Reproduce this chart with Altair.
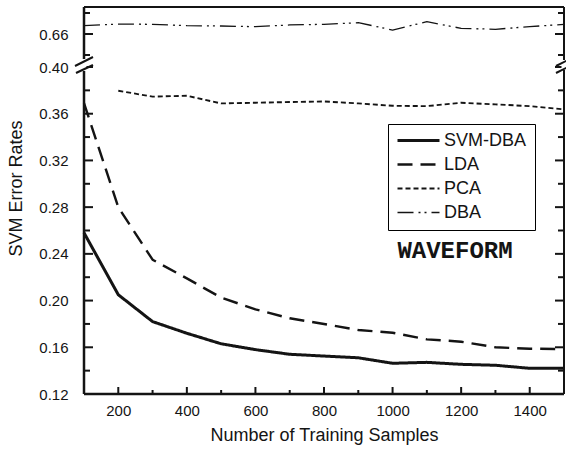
import altair as alt
import pandas as pd

# ---------------- data ----------------
samples = [100, 200, 300, 400, 500, 600, 700, 800, 900, 1000, 1100, 1200, 1300, 1400, 1500]
svm_dba = [0.258, 0.205, 0.182, 0.172, 0.163, 0.158, 0.154, 0.1525, 0.151, 0.1463, 0.1471, 0.1454, 0.1446, 0.142, 0.142]
lda = [0.369, 0.280, 0.235, 0.219, 0.2025, 0.1925, 0.1848, 0.180, 0.1748, 0.1725, 0.1668, 0.1648, 0.160, 0.1588, 0.1585]
pca = [None, 0.3797, 0.3746, 0.3754, 0.3688, 0.3694, 0.370, 0.3705, 0.3688, 0.3668, 0.3665, 0.3694, 0.368, 0.3665, 0.3637]
dba = [0.6679, 0.6695, 0.6692, 0.6679, 0.6676, 0.667, 0.6686, 0.6692, 0.6708, 0.6638, 0.6717, 0.6654, 0.6645, 0.667, 0.6692]

methods = ["SVM-DBA", "LDA", "PCA", "DBA"]
series = [svm_dba, lda, pca, dba]

y_major = [0.12, 0.16, 0.20, 0.24, 0.28, 0.32, 0.36, 0.40, 0.66]
y_minor = [0.14, 0.18, 0.22, 0.26, 0.30, 0.34, 0.38, 0.64, 0.68]
x_major = [200, 400, 600, 800, 1000, 1200, 1400]
x_minor = [300, 500, 700, 900, 1100, 1300]

# ---------------- styles ----------------
dash_styles = [[1, 0], [15, 8], [5, 3], [16, 5, 2, 4, 2, 5]]
width_styles = [3, 1.3, 1.3, 1.3]
INK = "#141414"
W, H = 480, 387

# broken axis: values above the break are shifted down next to 0.40
BREAK_EXPR = "datum.rate > 0.5 ? 0.42826 + (datum.rate - 0.66) * 0.899 : datum.rate"


def brk(v):
    return 0.42826 + (v - 0.66) * 0.899 if v > 0.5 else v


rows = []
for m, vals in zip(methods, series):
    for s, v in zip(samples, vals):
        if v is not None:
            rows.append({"samples": s, "rate": v, "method": m})
df = pd.DataFrame(rows)

xscale = alt.Scale(domain=[100, 1500], nice=False, zero=False)
yscale = alt.Scale(domain=[0.12, 0.45138], nice=False, zero=False)

xaxis = alt.Axis(
    title="Number of Training Samples", values=x_major, ticks=False, domain=False,
    grid=False, labelPadding=9, titlePadding=8, format="d")
yaxis = alt.Axis(
    title="SVM Error Rates", values=[brk(v) for v in y_major], ticks=False,
    domain=False, grid=False, labelPadding=16,
    labelExpr="datum.value > 0.41 ? '0.66' : format(datum.value, '.2f')",
    titleAngle=270, titleBaseline="middle", titleAlign="center",
    titleX=-68, titleY=181)

legend = alt.Legend(
    title=None, orient="none", legendX=304, legendY=117,
    strokeColor="black", padding=8, symbolType="stroke", symbolSize=1764,
    symbolStrokeColor=INK, labelFontSize=18, labelFont="Liberation Sans",
    labelColor=INK, clipHeight=17, rowPadding=5, labelOffset=3,
)

lines = alt.Chart(df).transform_calculate(pos=BREAK_EXPR).mark_line(
    color=INK, strokeCap="butt", strokeJoin="round"
).encode(
    x=alt.X("samples:Q", scale=xscale, axis=xaxis),
    y=alt.Y("pos:Q", scale=yscale, axis=yaxis),
    strokeDash=alt.StrokeDash("method:N", scale=alt.Scale(domain=methods, range=dash_styles), legend=legend),
    strokeWidth=alt.StrokeWidth("method:N", scale=alt.Scale(domain=methods, range=width_styles), legend=legend),
    order=alt.Order("samples:Q"),
)

ymaj = pd.DataFrame({"rate": y_major})
ymin = pd.DataFrame({"rate": y_minor})
xmaj = pd.DataFrame({"samples": x_major})
xmin = pd.DataFrame({"samples": x_minor})


def ytick(d, x0, x1):
    return alt.Chart(d).transform_calculate(pos=BREAK_EXPR).mark_rule(color=INK, strokeWidth=2).encode(
        y=alt.Y("pos:Q", scale=yscale, axis=yaxis), x=alt.value(x0), x2=alt.value(x1))


def xtick(d, ln):
    return alt.Chart(d).mark_rule(color=INK, strokeWidth=2).encode(
        x=alt.X("samples:Q", scale=xscale, axis=xaxis), y=alt.value(H), y2=alt.value(H - ln))


ticks = [
    ytick(ymaj, 0, 9), ytick(ymin, 0, 6),
    ytick(ymaj, W, W - 9), ytick(ymin, W, W - 6),
    xtick(xmaj, 7), xtick(xmin, 4),
]

one = pd.DataFrame({"k": [0]})


def seg(x0, y0, x1, y1, color=INK, sw=2):
    return alt.Chart(one).mark_rule(color=color, strokeWidth=sw, strokeCap="butt").encode(
        x=alt.value(x0), y=alt.value(y0), x2=alt.value(x1), y2=alt.value(y1))


frame = [
    seg(0, 0, W, 0, sw=2),
    seg(W, 0, W, H, sw=2),
    seg(0, H, W, H, sw=2.5),
    seg(0, 0, 0, H, sw=2.5),
]

breaks = [
    seg(0, 52, 0, 64, color="white", sw=5),
    seg(W, 53, W, 63, color="white", sw=5),
    seg(-9, 59, 9, 50, sw=2),
    seg(-8, 66, 9, 58, sw=2),
    seg(472, 59, 488, 51, sw=2),
    seg(472, 66, 488, 58, sw=2),
]

label = alt.Chart(one).mark_text(
    text="WAVEFORM", font="Liberation Mono", fontWeight="bold", fontSize=24,
    color=INK, align="center", baseline="middle"
).encode(x=alt.value(371), y=alt.value(244))

chart = alt.layer(lines, *ticks, *frame, *breaks, label).properties(
    width=W, height=H,
    padding={"left": 84, "top": 7, "right": 2, "bottom": 55},
    autosize=alt.AutoSizeParams(type="none"),
).configure_view(stroke=None).configure_axis(
    labelFont="Liberation Sans", labelFontSize=15, labelColor=INK,
    titleFont="Liberation Sans", titleFontSize=18, titleFontWeight="normal", titleColor=INK,
)

chart.save("out.html", embed_options={"renderer": "svg", "actions": False})
